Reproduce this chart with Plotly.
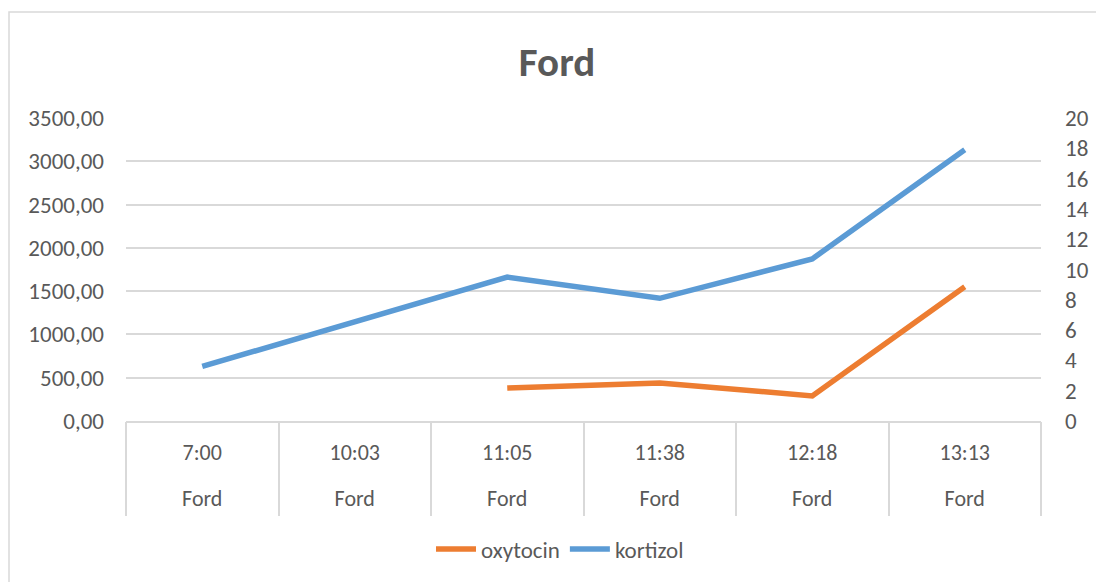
import plotly.graph_objects as go

times = ["7:00", "10:03", "11:05", "11:38", "12:18", "13:13"]
group_label = "Ford"
oxytocin = [None, None, 380, 440, 290, 1550]
kortizol = [3.6, None, 9.5, 8.1, 10.7, 17.9]

FONT = "Carlito, Calibri, Lato, sans-serif"
TXT = "#595959"
GRID = "#d9d9d9"
W, H = 1096, 582
L, R, T, B = 126, 1041, 118, 421
FS = 23

fig = go.Figure()
fig.add_trace(go.Scatter(x=times, y=oxytocin, name="oxytocin", mode="lines",
                         line=dict(color="#ED7D31", width=5.5), connectgaps=True))
fig.add_trace(go.Scatter(x=times, y=kortizol, name="kortizol", mode="lines",
                         line=dict(color="#5B9BD5", width=5.5), connectgaps=True,
                         yaxis="y2"))
# helper traces for category divider axis and group-label axis
fig.add_trace(go.Scatter(x=times, y=[None]*6, xaxis="x2", showlegend=False, hoverinfo="skip"))
fig.add_trace(go.Scatter(x=times, y=[None]*6, xaxis="x3", showlegend=False, hoverinfo="skip"))

cat = dict(type="category", categoryorder="array", categoryarray=times, range=[-0.5, 5.5],
           automargin=False)
fig.update_layout(
    width=W, height=H,
    margin=dict(l=L, r=W - R, t=T, b=H - B),
    paper_bgcolor="white", plot_bgcolor="white",
    separators=", ",
    font=dict(family=FONT, color=TXT, size=FS),
    title=dict(text="<b>Ford</b>", x=557 / W, xanchor="center", y=1 - 62 / H, yanchor="middle",
               font=dict(size=41, color=TXT, family=FONT)),
    xaxis=dict(**cat, showline=True, linecolor=GRID, linewidth=1.5, ticks="",
               showgrid=False, ticklabelstandoff=11, tickfont=dict(size=22, color=TXT)),
    xaxis2=dict(**cat, overlaying="x", side="bottom", anchor="y", showline=False,
                ticks="outside", tickson="boundaries", ticklen=94, tickwidth=1.5,
                tickcolor=GRID, showticklabels=False, showgrid=False),
    xaxis3=dict(**cat, overlaying="x", side="bottom", anchor="y", showline=False,
                ticks="", tickvals=times, ticktext=[group_label]*6,
                ticklabelstandoff=62, showgrid=False, tickfont=dict(size=22, color=TXT)),
    yaxis=dict(range=[0, 3500], dtick=500, tickformat=".2f", showgrid=True, gridcolor=GRID,
               gridwidth=1.5, zeroline=False, showline=False, ticks="", automargin=False,
               ticklabelstandoff=21, tickfont=dict(size=FS, color=TXT)),
    yaxis2=dict(range=[0, 20], dtick=2, overlaying="y", side="right", showgrid=False,
                zeroline=False, showline=False, ticks="", ticklabelstandoff=23, automargin=False,
                tickfont=dict(size=FS, color=TXT)),
    legend=dict(orientation="h", x=(560 - L) / (R - L), xanchor="center", y=-(549 - B) / (B - T),
                yanchor="middle", font=dict(size=FS, color=TXT), itemwidth=40,
                tracegroupgap=0),
    shapes=[dict(type="rect", xref="paper", yref="paper",
                 x0=(9 - L) / (R - L), x1=(1110 - L) / (R - L),
                 y0=(B - 600) / (B - T), y1=(B - 12) / (B - T),
                 line=dict(color=GRID, width=1.5), fillcolor="rgba(0,0,0,0)", layer="below")],
)

fig.write_html("out.html", config={"displayModeBar": False},
               post_script="document.body.style.margin='0';document.body.style.overflow='hidden';")
